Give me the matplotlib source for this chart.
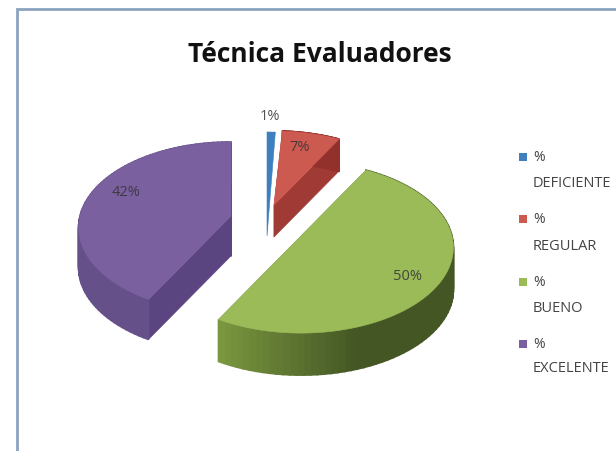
import numpy as np
import matplotlib
matplotlib.use("Agg")
import matplotlib.pyplot as plt
from matplotlib.patches import Polygon, Rectangle

# Data
categories = ["%", "%", "%", "%"]
categories_2 = ["DEFICIENTE", "REGULAR", "BUENO", "EXCELENTE"]
values = [1, 7, 50, 42]
labels = ["1%", "7%", "50%", "42%"]

# Styles for each slice
top_colors = ["#3f7fbd", "#cd5a50", "#9bbb59", "#7b60a0"]
wall_colors = ["#2f5f90", "#92302c", "#4d6228", "#65508a"]
inner_colors = ["#2f5f90", "#a03a35", "#5f7a2d", "#5a4580"]
apexes = [(267, 207), (274, 206), (301, 237), (231, 217)]
depths = [30, 32, 42, 40]
label_pos = [(270, 117), (300, 148), (407, 277), (126, 193)]

# Pie projection
rx = 151
ry = 84
k = 0.135


def project(theta, apex):
    d = 1 + k * np.cos(theta)
    return np.column_stack((apex[0] + rx * np.sin(theta) / d,
                            apex[1] - ry * np.cos(theta) / d))


def lerp_color(c1, c2, t):
    a = np.array(matplotlib.colors.to_rgb(c1))
    b = np.array(matplotlib.colors.to_rgb(c2))
    return tuple(a + (b - a) * t)


fig = plt.figure(figsize=(6.16, 4.52), dpi=100)
ax = fig.add_axes([0, 0, 1, 1])
ax.set_xlim(0, 616)
ax.set_ylim(452, 0)
ax.axis("off")

# Chart frame
ax.plot([17, 17, 616], [452, 10, 10], color="#8ba3bf", lw=2, solid_joinstyle="miter")

edges = np.cumsum([0] + values) / sum(values) * 2 * np.pi

for i in [3, 0, 1, 2]:
    th = np.linspace(edges[i], edges[i + 1], 80)
    arc = project(th, apexes[i])
    apex = np.array(apexes[i], dtype=float)
    down = np.array([0, depths[i]])

    # the blue sliver is too thin to show any wall
    if i != 0:
        # inner walls
        for end in (arc[0], arc[-1]):
            quad = [apex, end, end + down, apex + down]
            ax.add_patch(Polygon(quad, fc=inner_colors[i], ec=inner_colors[i], lw=0.4))

        # outer wall, shaded along the arc
        for j in range(len(th) - 1):
            color = wall_colors[i]
            if i == 2:
                # green gets lighter towards the left corner
                t = np.clip((np.degrees(th[j]) - 160) / 49, 0, 1)
                color = lerp_color("#435624", "#7d9a40", t)
            quad = [arc[j], arc[j + 1], arc[j + 1] + down, arc[j] + down]
            ax.add_patch(Polygon(quad, fc=color, ec=color, lw=1.2))

    face = np.vstack((apex, arc))
    if i == 0:
        face = np.vstack((apex + down, arc))
    ax.add_patch(Polygon(face, fc=top_colors[i], ec=top_colors[i], lw=0.4))

# Value labels
for i, txt in enumerate(labels):
    ax.text(label_pos[i][0], label_pos[i][1], txt, fontsize=10.5, family="Open Sans",
            color="#333333", ha="center", va="center", alpha=0.85)

# Title
ax.text(320, 54, "Técnica Evaluadores", fontsize=19, family="Open Sans", fontweight="bold",
        color="#111111", ha="center", va="center")

# Legend
legend_y = [158, 220, 283, 345]
legend_y2 = [184, 247, 309, 369]
for i in range(len(categories)):
    ax.add_patch(Rectangle((519, legend_y[i] - 4), 8, 8, fc=top_colors[i], ec="none"))
    ax.text(533, legend_y[i], categories[i], fontsize=10, family="Open Sans", color="#444444", va="center")
    ax.text(533, legend_y2[i], categories_2[i], fontsize=10.5, family="Open Sans", color="#444444", va="center")

fig.savefig("out.png", dpi=100)
